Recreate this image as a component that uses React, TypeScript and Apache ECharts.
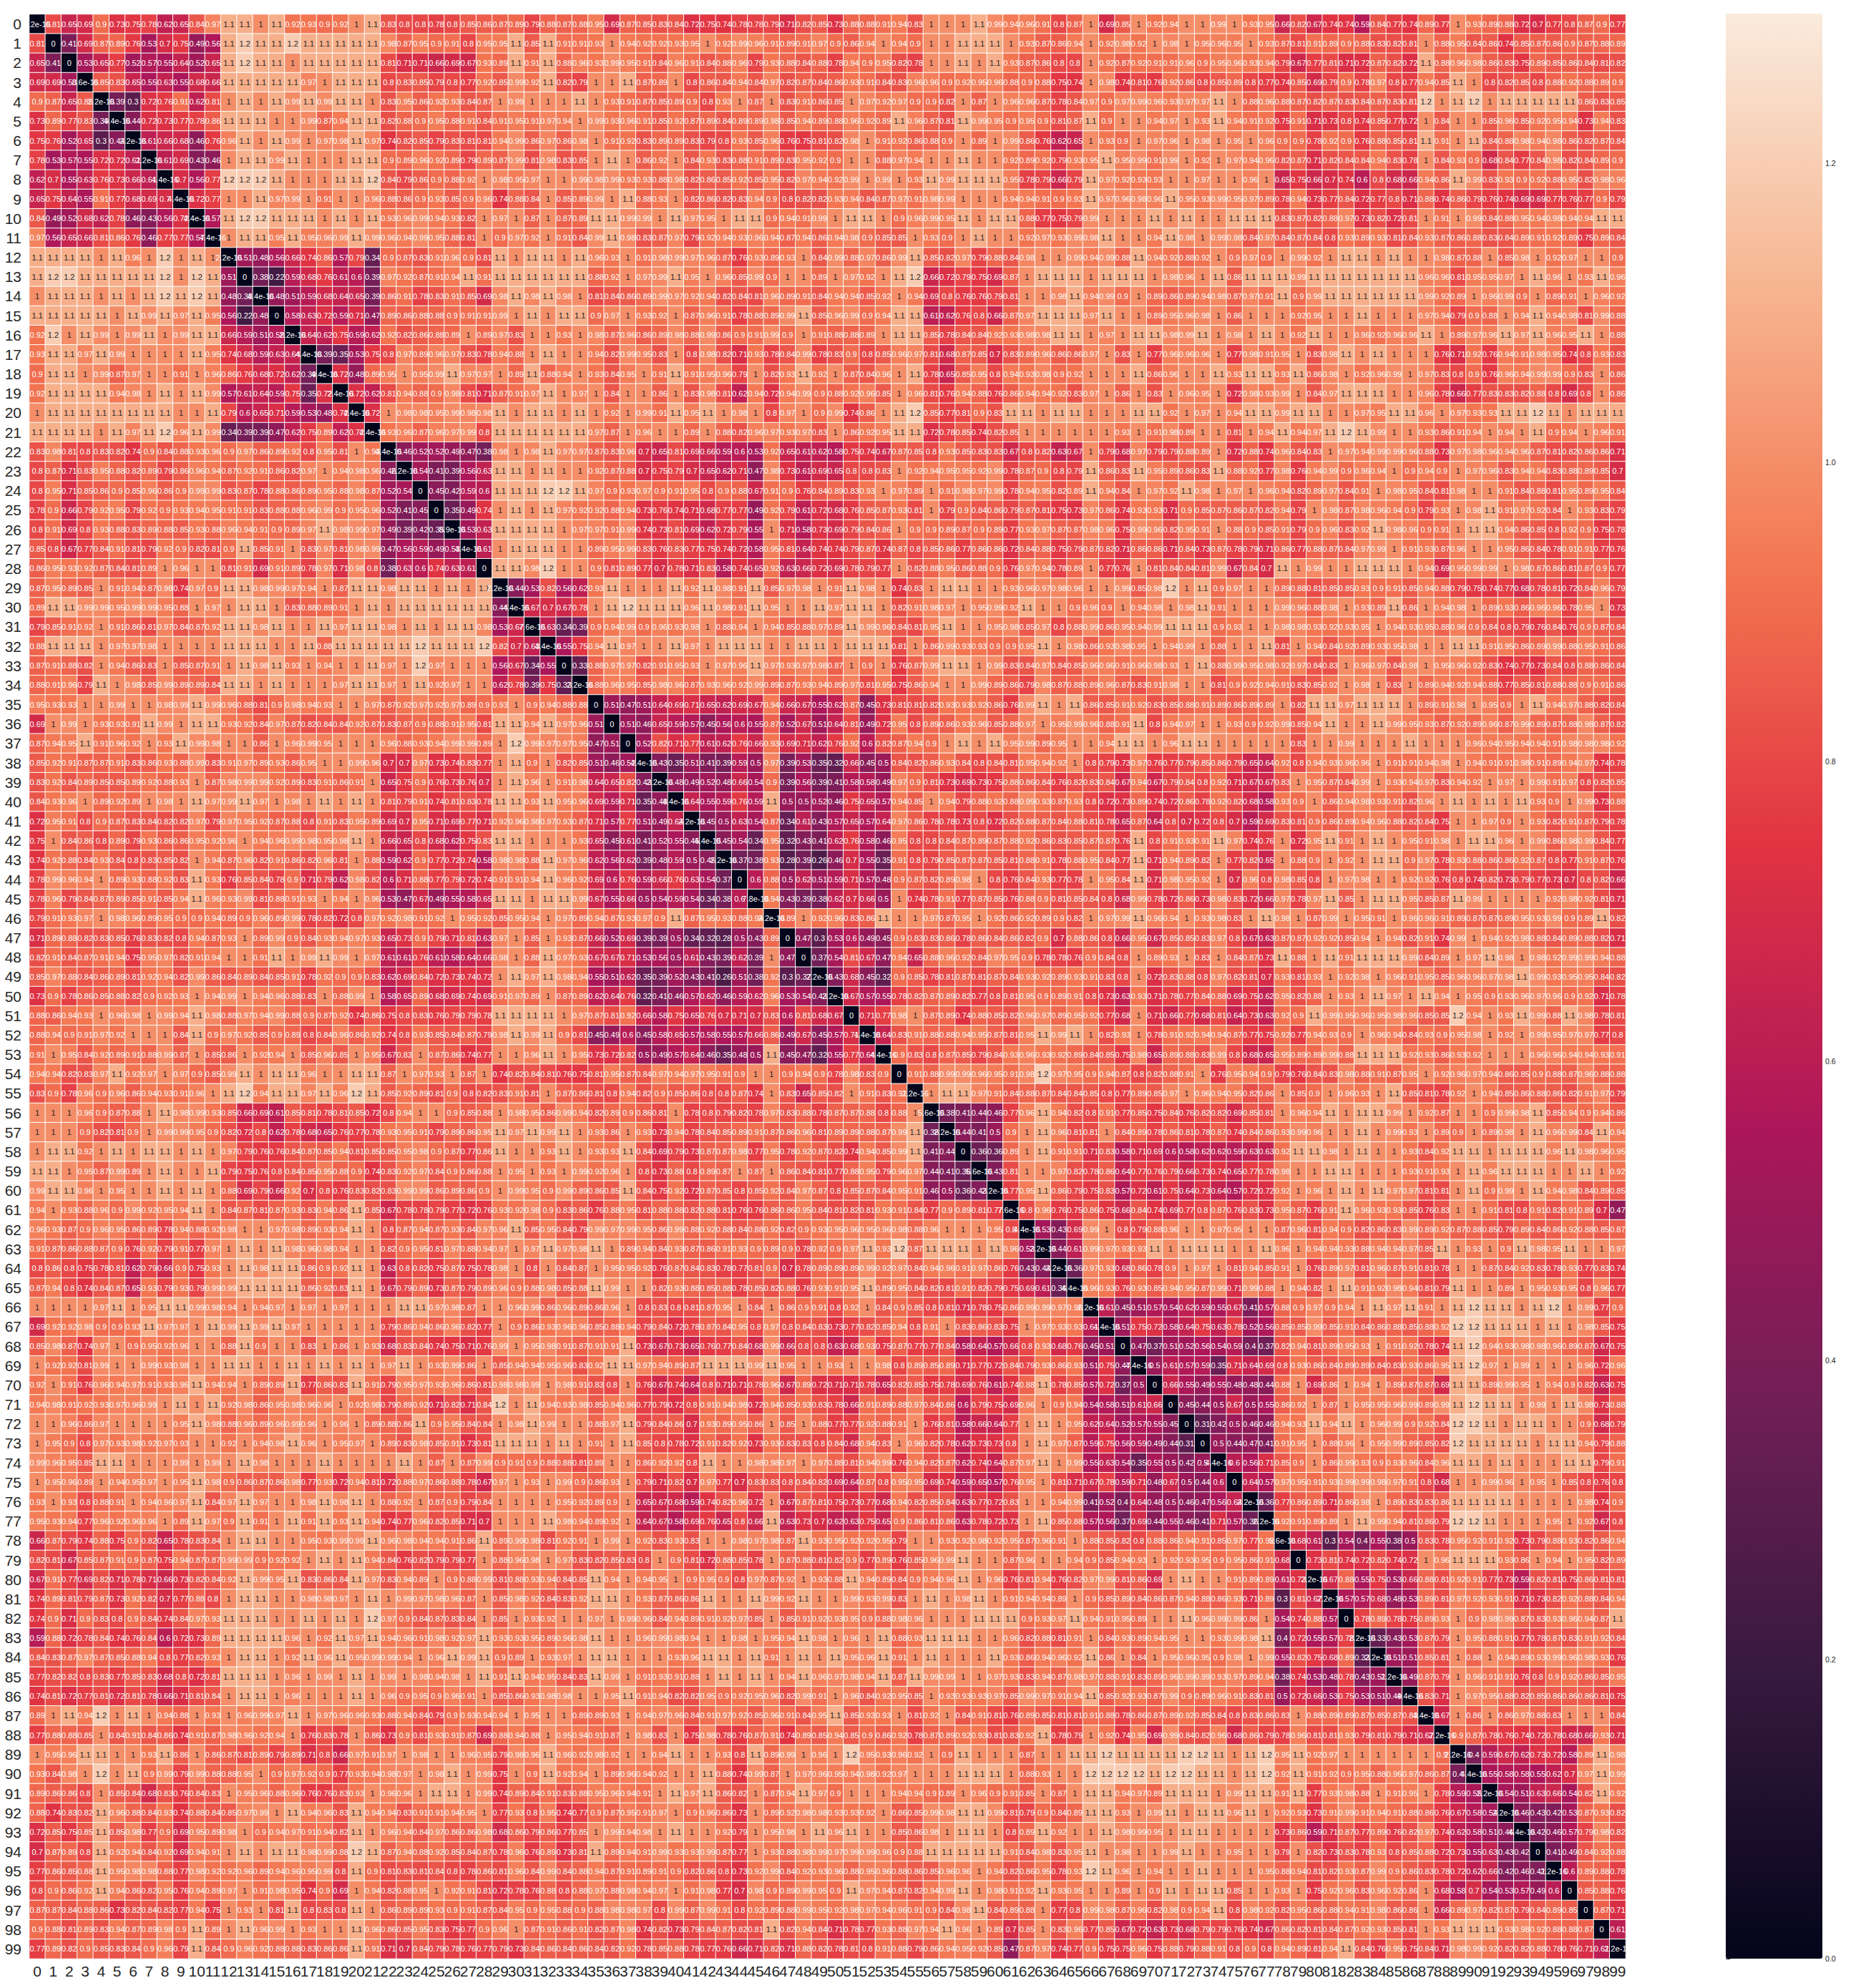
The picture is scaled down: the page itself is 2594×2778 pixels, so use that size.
import React, { useEffect, useRef } from "react";
import * as echarts from "echarts";

// Upper triangle of the matrix, in hundredths. rN holds columns N+1 .. 99 of row N.
const r0 = [81,65,69,90,73,75,78,62,65,84,97,110,110,100,110,92,93,90,92, 100,110,83,80,80,78,80,85,86,87,89,79,88,87,88,95,69,87,85,83,84,72,75,74,78,78,79,71,82,85,73,88,88,91,94,83,100,100,100,110, 99,94,96,91,80,87,100,69,85,100,92,94,100,100,99,100,93,95,66,82,67,74,74,59,84,77,74,89,77,100,93,89,88,72,70,77,80,87,90,77];
const r1 = [41,69,87,89,76,53,70,75,49,56,110,120,110,110,120,110,110,110, 110,110,98,87,95,90,91,80,95,95,110,85,110,91,91,93,100,94,92,92,93,95,100,92,99,96,91,89,91,97,90,86,94,100,94,90,100,100,110,110, 110,100,93,87,86,94,100,92,98,92,100,98,100,95,96,95,100,93,87,81,91,89,90,88,83,82,81,100,88,95,84,86,74,85,87,86,90,87,88,89];
const r2 = [53,65,77,52,57,55,64,52,65,110,120,110,110,100,110,110,110, 110,110,81,71,71,66,69,67,93,89,110,91,110,88,96,93,99,95,91,84,96,91,84,88,96,79,93,88,84,88,78,94,90,95,82,78,100,100,110,100, 110,93,87,86,80,80,100,92,87,92,91,91,96,90,95,96,93,94,79,67,77,81,71,72,87,82,72,110,88,96,98,86,83,75,89,85,86,84,81,82];
const r3 = [85,83,65,55,63,55,68,66,110,110,110,110,110,97,100,110, 110,110,80,83,85,79,80,77,92,85,99,92,110,82,79,100,100,110,87,89,100,80,86,84,94,84,97,82,87,84,86,93,91,84,83,96,96,90,92,95, 96,88,90,88,75,74,100,98,74,81,76,92,86,80,85,89,80,77,74,85,69,79,90,78,97,80,77,94,85,110,100,80,82,85,80,88,92,88,89,90];
const r4 = [39,30,72,76,91,62,81,100,110,100,110,99,110,99,110, 110,100,83,95,86,92,93,84,87,100,99,100,100,100,110,100,93,91,87,85,89,90,80,93,100,87,100,83,91,86,85,100,97,92,97,90,90,82,100,87, 100,96,96,87,78,84,97,90,97,99,96,93,97,97,110,100,88,96,88,87,82,87,83,84,87,83,81,120,100,110,120,100,110,110,110,110,110,86,83,85];
const r5 = [44,72,73,77,78,86,110,110,110,100,100,99,87,94, 110,110,82,88,90,95,88,91,84,91,95,91,97,94,100,99,93,96,91,85,92,87,89,84,89,89,98,85,94,89,88,96,92,89,110,96,87,81,110,99, 95,90,95,90,81,87,110,90,100,100,94,97,100,93,110,94,91,92,75,91,71,73,80,74,85,77,72,100,84,100,100,85,96,85,92,95,94,73,94,83];
const r6 = [61,66,68,46,76,96,110,100,110,99,100,97,98, 110,97,74,82,85,79,83,81,81,94,99,86,97,86,98,100,91,92,83,89,89,83,79,80,93,85,96,76,75,81,82,98,100,91,92,86,88,90,100,89, 100,99,86,76,62,65,100,93,90,100,97,96,100,98,100,95,100,96,90,90,78,92,90,76,88,85,81,110,91,100,110,84,88,98,94,98,86,82,87,84];
const r7 = [61,69,43,46,100,110,110,99,110,100,100,100, 110,110,90,89,96,92,89,79,89,87,99,81,98,83,85,100,110,100,86,92,100,84,93,83,88,91,89,83,95,92,90,100,100,88,97,94,100,100,110,100, 100,92,89,92,79,93,95,110,95,99,91,99,100,92,100,97,94,96,82,87,71,82,84,84,94,83,78,100,84,93,90,68,84,77,84,98,82,84,89,90];
const r8 = [70,56,77,120,120,120,110,100,100,100,110, 110,120,84,79,86,90,88,92,100,98,95,97,100,100,99,98,99,93,93,88,98,82,86,85,92,85,95,82,97,94,92,99,100,99,100,93,110,99,110,110, 110,95,78,79,66,79,110,97,92,93,93,100,100,97,100,100,96,100,65,75,66,70,74,60,80,68,66,94,86,110,99,83,93,90,92,88,95,82,98,96];
const r9 = [72,77,100,100,110,97,99,100,91,100, 100,96,88,86,90,93,85,90,96,74,88,84,100,85,89,99,100,110,88,93,100,82,86,82,83,94,90,80,82,82,93,94,84,87,97,91,98,99,100,100, 100,94,94,91,90,93,110,97,96,98,96,110,95,93,99,95,97,89,78,94,73,77,84,72,77,80,71,88,74,86,79,76,74,69,69,77,76,77,90,79];
const r10 = [57,110,120,120,110,110,110,100,110, 100,110,93,96,99,94,93,82,100,97,100,87,100,87,89,110,110,99,99,100,110,97,95,100,110,110,90,94,91,99,100,110,110,100,90,96,99,95,110,100, 110,110,88,77,75,79,99,100,100,100,110,100,110,100,100,110,110,110,83,87,82,88,97,73,82,72,81,100,91,100,99,84,88,95,94,98,94,94,110,110];
const r11 = [100,110,110,95,110,95,96,99, 110,99,96,94,99,95,88,81,100,90,97,92,100,91,84,99,110,98,83,87,97,79,92,94,93,96,94,87,94,86,94,98,90,85,85,100,93,90,100,110, 100,100,92,97,93,99,98,110,100,100,94,110,98,100,99,98,84,97,84,87,84,80,93,89,93,81,84,93,87,86,88,83,84,89,91,92,89,75,89,84];
const r12 = [51,48,56,66,74,86,57, 79,34,90,87,83,91,96,90,81,110,100,110,110,100,110,96,93,100,91,98,99,97,96,87,76,93,89,93,100,84,99,88,97,86,99,110,85,82,97,79, 88,84,98,100,100,99,94,99,88,110,94,92,88,92,100,90,97,90,100,99,92,100,110,110,100,110,100,100,98,87,88,100,85,98,100,92,97,100,100,90];
const r13 = [38,22,59,68,76,61, 60,39,97,92,87,91,94,110,91,110,110,110,110,110,110,88,92,100,97,99,110,95,100,96,85,99,90,100,100,89,100,97,92,100,110,120,66,72,79,75, 69,87,100,110,110,110,100,110,110,110,100,98,96,100,110,86,110,110,110,99,110,110,110,110,110,110,110,96,96,81,95,95,97,100,110,96,100,93,110,96];
const r14 = [48,51,59,68,64, 65,39,86,91,78,83,91,85,69,98,110,98,110,98,100,81,84,86,89,99,97,92,94,82,84,81,96,89,91,84,94,94,85,92,100,94,69,80,76,76, 79,81,100,100,98,110,94,99,90,100,89,86,89,94,98,87,97,91,110,90,99,110,110,110,110,110,110,99,92,89,100,96,99,90,100,89,91,100,96,92];
const r15 = [58,63,72,59, 71,47,89,86,88,88,90,91,91,99,100,110,100,110,110,90,97,100,93,92,100,87,96,91,78,88,89,99,110,85,96,99,90,94,110,110,61,62,76,80, 66,87,97,110,110,110,97,110,100,100,89,95,96,98,100,86,100,100,100,92,95,100,100,110,100,100,100,97,94,79,90,88,100,94,110,94,98,81,99,88];
const r16 = [64,62,75, 59,62,92,82,86,88,89,100,89,97,83,100,100,93,100,98,87,96,86,89,98,88,99,86,90,91,99,90,100,91,88,88,89,100,110,110,85,78,84,84, 92,93,98,98,110,110,100,97,100,110,110,98,99,110,100,98,100,110,100,92,110,100,100,96,92,96,96,110,100,89,97,96,110,97,110,96,95,110,100,88];
const r17 = [39,35, 53,75,80,97,89,96,97,83,78,94,88,100,110,100,100,94,82,99,95,83,100,80,98,82,71,93,78,84,99,78,83,90,80,85,96,97,81,68,87,85, 70,83,89,96,86,86,97,100,83,100,77,96,96,96,100,77,98,91,95,100,83,98,110,100,110,100,100,100,76,71,92,76,94,91,98,95,74,80,93,83];
const r18 = [72, 48,89,95,100,95,99,110,97,97,100,89,110,88,94,100,93,84,95,100,91,110,91,95,96,79,100,82,93,110,92,100,87,84,96,100,110,78,65,85,95, 80,94,93,98,90,92,100,100,100,110,86,96,100,100,110,93,110,110,93,110,86,98,100,92,96,99,100,97,83,80,90,76,96,94,99,99,90,83,100,86];
const r19 = [72,62,81,94,88,90,98,81,71,87,91,97,110,100,97,100,84,100,100,86,100,83,98,81,62,94,72,94,99,90,88,92,96,85,100,96,81,76,94,88, 76,86,94,94,92,83,97,100,86,100,83,100,96,95,100,72,98,93,99,100,84,97,110,110,110,100,100,96,78,66,77,83,83,82,88,80,69,80,100,86];
const r20 = [72,100,98,98,95,99,98,98,110,100,110,110,100,110,100,92,100,99,91,110,95,110,100,98,100,80,97,100,90,99,74,86,100,110,120,85,77,81,90, 83,110,110,100,110,110,100,100,100,110,110,92,100,97,100,94,110,110,99,110,110,100,100,97,95,110,110,96,100,97,93,93,110,110,120,110,100,110,110,110];
const r21 = [93,96,87,96,97,99,80,110,110,110,110,110,110,97,87,100,96,100,100,89,100,88,82,96,97,93,97,83,100,86,92,95,110,110,72,78,85,74, 82,85,100,100,100,100,100,100,93,100,91,98,89,100,100,81,100,94,110,94,97,110,120,110,99,100,100,93,86,91,94,100,94,100,110,90,94,100,96,91];
const r22 = [46,52,52,49,47,38,98,100,98,110,97,97,87,83,96,70,65,81,69,66,59,60,53,92,65,61,62,58,75,74,67,87,85,80,93,85,83, 83,67,80,82,63,67,100,79,68,97,79,79,88,89,100,72,88,74,96,84,83,100,97,94,99,99,96,88,73,97,98,96,94,96,87,81,82,86,86,71];
const r23 = [54,41,39,56,63,110,110,100,110,100,100,92,87,88,70,75,79,70,65,62,71,47,98,73,61,69,65,80,80,83,100,92,94,95,95,92, 99,78,87,90,80,79,110,86,83,110,95,89,86,83,110,88,92,77,98,76,94,99,90,96,94,100,90,94,90,100,97,96,83,94,94,83,88,89,85,70];
const r24 = [45,42,59,60,110,110,110,120,120,110,97,90,93,97,90,91,95,80,90,88,67,91,90,76,84,89,83,93,100,97,89,100,91,98,97, 99,78,94,95,82,89,110,94,84,100,97,92,110,98,100,97,100,96,94,82,89,97,84,91,100,98,95,84,81,98,100,100,91,84,88,81,95,89,95,84];
const r25 = [35,49,74,100,110,100,110,97,92,92,88,94,73,76,74,71,68,77,77,49,92,79,61,72,68,76,85,87,93,81,100,79,90,84, 86,79,87,81,75,73,97,86,74,93,93,71,90,85,87,86,87,82,94,79,100,98,87,98,96,94,90,79,93,100,98,110,91,97,92,84,100,93,83,79];
const r26 = [53,63,110,110,110,110,100,97,97,91,99,74,73,81,69,62,72,79,55,100,71,58,73,69,79,84,86,100,90,90,89,87,90, 89,77,93,97,87,87,98,96,75,99,96,82,95,91,100,88,90,85,91,79,90,96,83,92,110,98,96,90,91,100,110,110,94,86,85,80,92,90,75,78];
const r27 = [61,100,110,110,110,100,100,89,95,99,83,76,83,77,75,74,72,58,95,81,64,74,74,79,87,74,87,80,85,86,77,86, 86,72,84,88,75,79,87,82,71,86,86,71,84,73,87,78,79,71,86,77,88,87,84,97,99,100,91,93,87,96,100,100,95,86,84,78,91,91,77,76];
const r28 = [110,110,98,120,100,100,90,81,89,77,70,78,71,83,58,74,65,92,63,66,72,69,78,79,77,100,82,88,95,86,88, 90,76,97,94,78,89,100,77,76,100,81,84,84,81,99,67,84,70,110,100,99,100,100,110,110,110,100,94,69,95,99,99,100,98,87,86,81,87,90,77];
const r29 = [44,53,82,56,62,93,110,100,100,100,110,92,110,98,91,110,85,97,98,100,91,110,98,100,74,83,100,110,110,100, 100,93,96,97,98,96,100,100,99,85,98,120,100,110,90,97,100,100,89,88,81,85,85,93,90,91,85,94,88,79,75,74,77,68,78,81,72,84,96,79];
const r30 = [67,70,67,78,100,110,120,110,110,110,96,110,98,91,110,95,100,100,110,97,110,110,100,82,91,98,97,100,95, 99,92,110,100,100,90,96,90,100,94,98,100,98,110,91,100,100,100,99,96,88,98,100,93,89,110,86,100,94,98,100,89,93,86,96,96,78,95,100,73];
const r31 = [63,34,39,90,94,99,90,96,93,98,100,88,94,100,94,85,88,97,89,110,99,96,84,81,95,110,100,100, 95,98,85,97,80,88,99,86,95,94,99,110,110,110,90,93,100,100,98,98,93,92,93,95,100,94,93,95,88,96,90,84,80,79,76,84,76,90,87,84];
const r32 = [55,75,94,110,97,100,100,110,97,100,110,110,110,100,100,110,110,100,110,110,110,81,100,86,99,93,93, 90,90,95,110,100,98,86,93,98,95,100,94,99,100,88,100,100,110,81,100,94,84,92,89,93,95,98,100,100,110,110,91,95,86,89,99,88,95,91,86];
const r33 = [33,88,97,97,82,91,95,93,100,97,96,110,97,93,97,98,87,100,90,100,76,87,99,110,110,100, 99,83,84,97,84,85,96,96,91,96,98,93,100,110,88,99,95,98,92,97,84,83,100,96,97,84,98,100,95,96,92,83,74,77,73,84,80,88,86,84];
const r34 = [88,96,95,85,98,96,87,93,96,92,99,89,87,93,94,89,97,81,95,75,86,94,100,100,99, 89,86,79,98,87,88,89,96,87,83,91,98,100,100,81,90,92,94,91,83,85,92,100,98,100,83,100,89,94,92,94,88,77,85,81,88,88,90,91,86];
const r35 = [51,47,51,64,69,71,65,62,69,67,94,66,67,55,62,87,45,73,81,81,82,93,93,92, 86,76,99,110,100,110,86,85,91,92,83,85,88,91,89,86,89,89,100,82,110,110,97,110,110,110,100,89,91,98,100,95,90,100,110,94,97,88,82,84];
const r36 = [51,46,65,59,57,45,56,60,55,87,52,67,51,64,81,49,72,95,80,89,86,93,96, 85,88,97,100,95,99,96,88,91,110,80,94,97,100,100,93,90,92,99,85,94,110,100,100,110,99,95,93,87,92,89,96,87,99,89,87,88,98,87,82];
const r37 = [52,82,71,77,61,62,76,66,93,69,71,62,76,92,60,82,87,94,90,100,110,100, 110,95,99,89,95,100,100,94,110,110,100,96,110,110,100,100,100,100,100,83,100,100,99,100,100,100,110,100,100,100,96,94,95,94,94,91,98,98,98,92];
const r38 = [43,35,51,41,39,59,50,97,39,53,35,32,66,45,50,84,82,86,93,84,80, 84,81,95,94,92,100,80,79,73,97,76,77,79,85,86,79,65,64,92,80,94,93,96,96,100,91,91,94,98,100,94,91,91,98,91,89,94,97,74,78];
const r39 = [48,49,52,48,66,54,90,39,56,39,41,58,58,49,97,90,81,73,69,73, 75,88,86,84,76,82,83,84,67,94,67,79,84,80,92,71,67,67,83,100,95,87,84,99,100,93,94,97,83,94,92,100,97,100,99,91,97,80,82,85];
const r40 = [64,55,59,76,59,110,50,50,52,46,75,65,57,94,85,100,94,79,88, 92,88,99,93,87,93,80,72,73,89,74,72,86,78,92,82,68,58,93,90,100,86,94,98,93,91,82,96,100,110,100,110,100,110,93,90,100,99,73,88];
const r41 = [45,50,63,54,87,34,61,43,57,65,57,64,97,86,78,78,73,80, 72,82,88,87,84,88,81,78,65,87,64,80,70,72,80,70,59,69,83,81,90,86,89,94,96,88,82,84,75,100,100,97,90,100,93,82,91,87,79,78];
const r42 = [45,54,34,95,32,43,41,62,76,58,46,95,80,80,84,87,89, 87,88,92,86,83,85,87,87,76,110,80,91,93,91,110,97,74,76,100,72,95,110,91,100,110,100,95,91,98,100,110,110,96,100,99,86,98,99,84,77];
const r43 = [37,38,93,28,39,26,46,70,55,35,91,80,79,85,87,87, 85,81,88,91,78,88,95,84,77,110,71,94,89,82,100,77,82,65,100,88,90,100,92,100,110,110,90,97,78,93,88,86,86,92,87,80,77,91,87,76];
const r44 = [60,88,50,62,51,59,71,57,48,90,87,82,89,98,100, 80,76,84,93,77,78,100,95,84,110,71,98,95,92,100,70,96,80,98,85,80,100,97,98,100,100,92,92,76,80,74,82,73,79,77,73,70,80,82,66];
const r45 = [94,43,39,38,62,70,66,50,100,74,78,91,77,87, 85,76,88,90,81,85,84,80,68,99,78,72,86,73,98,83,72,66,97,78,97,110,85,100,110,110,95,85,87,110,99,100,100,100,100,92,98,92,81,71];
const r46 = [89,100,92,96,83,86,110,100,100,97,87,95,100, 92,86,92,89,90,82,100,97,99,110,96,94,100,93,98,83,100,110,98,100,87,99,100,95,91,100,96,96,91,89,87,87,89,95,93,99,90,89,110,82];
const r47 = [47,30,53,60,49,45,90,83,83,86,78,86, 84,86,82,90,70,88,86,80,66,95,67,85,85,83,97,80,67,63,87,87,92,92,85,94,100,94,82,91,74,99,100,94,92,98,88,84,89,88,82,71];
const r48 = [37,54,81,67,47,94,65,88,96,92,84, 97,95,90,78,78,76,90,84,80,100,89,93,100,83,100,84,87,73,110,88,100,110,91,110,110,110,99,84,89,100,97,110,98,100,98,92,99,99,94,88];
const r49 = [43,68,45,32,90,85,78,81,87,81, 87,84,93,92,89,93,91,83,80,100,72,83,88,80,97,82,81,70,93,81,93,100,92,98,100,96,91,95,85,96,96,97,98,110,99,93,95,95,84,82];
const r50 = [67,57,55,78,82,87,89,82,77, 80,81,95,90,89,91,80,73,63,93,71,78,77,84,88,69,75,62,95,82,88,100,93,100,110,97,100,110,94,100,95,90,93,96,97,96,90,92,71,78];
const r51 = [71,77,98,100,87,89,74,88, 85,82,96,97,89,95,92,77,68,100,71,66,77,68,81,64,73,63,92,90,110,99,95,96,95,98,96,85,85,120,94,100,93,110,99,88,110,98,78,81];
const r52 = [64,83,91,88,88,94,95, 87,81,95,110,99,110,100,82,93,100,78,91,92,94,94,87,77,75,92,77,94,93,90,100,96,94,84,93,90,95,98,100,92,100,99,95,97,97,77,80];
const r53 = [90,83,80,87,85,79, 84,93,96,93,92,89,84,85,75,98,65,89,88,83,99,80,68,65,95,89,89,99,88,110,110,110,92,93,86,93,92,100,100,100,96,96,94,94,93,91];
const r54 = [91,88,99,99,96, 95,91,98,120,97,95,90,94,87,80,82,88,91,100,76,95,94,90,79,76,84,83,98,88,91,87,95,100,92,96,97,94,86,85,90,88,87,96,88,88];
const r55 = [100,110,110,97, 91,84,88,87,84,84,85,80,77,89,85,97,100,96,94,95,82,86,100,85,90,100,96,93,100,110,85,81,78,92,100,94,85,86,88,86,82,91,97,79];
const r56 = [38,41,44, 46,77,96,110,94,82,80,91,77,85,75,84,76,82,82,69,85,81,100,96,94,110,100,110,110,99,100,92,87,100,100,90,99,98,110,85,94,90,94,86];
const r57 = [44,41, 50,90,100,110,96,81,81,100,84,89,78,86,81,78,87,74,84,86,93,99,96,100,100,110,100,99,93,100,89,90,100,89,98,100,110,96,99,84,110,94];
const r58 = [36, 36,89,100,110,91,91,71,83,58,71,69,60,58,62,62,59,63,63,92,110,110,98,100,110,100,100,93,84,92,110,110,100,110,110,110,96,110,98,96,95];
const r59 = [43,81,100,100,97,82,78,86,64,77,76,79,66,73,74,65,77,78,98,100,100,110,110,100,100,100,93,91,93,100,110,96,110,110,110,100,100,110,100,92];
const r60 = [77,95,110,86,79,75,83,57,72,61,75,64,73,64,57,72,72,92,100,96,100,110,100,110,97,97,81,81,100,110,90,99,100,110,94,98,84,89,85];
const r61 = [80,96,76,75,86,75,66,84,74,69,77,80,87,76,83,73,95,87,76,91,110,96,93,93,85,76,83,100,100,91,81,80,91,82,91,89,70,47];
const r62 = [53,43,69,99,100,80,79,88,96,100,100,97,95,100,100,87,96,81,94,90,82,86,83,99,89,92,87,88,85,79,89,84,86,92,88,85,87];
const r63 = [44,61,99,97,93,93,110,100,110,110,110,100,100,110,96,100,94,94,93,88,94,94,97,85,110,100,93,100,90,110,98,95,110,100,100,97];
const r64 = [36,97,93,68,86,78,90,100,97,100,81,94,85,91,100,76,89,97,81,96,87,91,81,78,100,100,87,84,92,83,78,93,77,83,74];
const r65 = [96,93,76,93,85,94,95,87,99,71,99,88,100,94,82,100,110,91,92,98,94,81,79,110,100,100,89,100,95,93,95,80,96,77];
const r66 = [61,45,51,57,54,62,59,55,67,41,57,88,90,97,90,94,100,110,97,110,91,100,110,120,110,110,100,110,120,100,99,77,90];
const r67 = [51,75,72,58,64,75,63,78,52,56,85,85,99,85,91,84,86,88,85,88,92,120,120,110,110,110,100,110,100,98,85,75];
const r68 = [47,37,51,52,56,54,59,40,37,82,94,81,89,95,93,100,91,92,78,74,110,120,94,93,98,98,96,89,87,67,75];
const r69 = [50,61,57,59,35,71,64,69,80,93,86,84,89,89,84,83,93,86,95,110,120,97,100,99,100,100,100,96,72,96];
const r70 = [66,55,49,55,48,48,44,88,100,69,86,100,94,100,89,87,87,69,110,110,89,99,95,100,94,90,82,63,75];
const r71 = [45,44,50,67,50,55,86,92,100,87,100,95,95,96,99,89,99,110,120,110,110,100,99,100,110,98,73,88];
const r72 = [31,42,50,46,46,94,93,110,94,110,100,96,99,90,92,84,120,120,110,100,110,110,100,100,90,68,79];
const r73 = [50,44,47,41,91,95,100,88,96,100,95,99,89,85,82,120,110,110,110,110,100,110,110,94,79,88];
const r74 = [60,56,71,85,90,100,86,99,93,90,93,96,84,96,110,110,100,110,100,100,100,110,110,79,91];
const r75 = [64,57,97,95,91,93,99,99,98,97,91,80,68,100,100,99,96,100,95,100,85,80,76,80];
const r76 = [36,77,86,89,71,86,98,100,89,83,83,86,110,110,110,110,100,100,100,100,98,74,90];
const r77 = [92,91,89,89,100,110,99,94,81,86,79,120,120,110,100,100,100,95,100,92,67,80];
const r78 = [68,61,30,54,40,55,38,50,83,78,95,92,91,92,73,79,88,93,82,86,94];
const r79 = [73,81,74,72,82,74,72,100,96,110,110,110,93,86,100,94,100,95,82,89];
const r80 = [67,88,55,75,53,66,88,81,92,91,77,73,59,82,81,75,86,81,81];
const r81 = [57,57,68,48,53,89,81,97,92,93,91,71,73,82,92,88,84,94];
const r82 = [78,89,78,75,89,93,100,90,98,99,87,83,93,96,94,87,110];
const r83 = [33,43,53,87,79,100,95,88,91,77,78,87,83,91,92,84];
const r84 = [51,51,85,81,100,88,100,94,89,93,99,96,98,93,76];
const r85 = [49,87,79,100,96,91,91,76,80,90,92,86,85,95];
const r86 = [83,71,100,97,95,88,82,85,86,86,86,81,75];
const r87 = [67,100,86,100,86,97,88,83,100,100,100,84];
const r88 = [90,87,78,76,74,72,78,68,66,93,71];
const r89 = [40,59,67,62,73,72,58,89,110,98];
const r90 = [55,58,58,55,62,70,97,110,99];
const r91 = [54,51,63,66,54,82,110,92];
const r92 = [46,43,42,53,87,93,82];
const r93 = [42,46,57,79,98,82];
const r94 = [41,49,84,92,88];
const r95 = [60,89,88,78];
const r96 = [85,88,76];
const r97 = [87,71];
const r98 = [61];

const upperRows = [r0,r1,r2,r3,r4,r5,r6,r7,r8,r9,r10,r11,r12,r13,r14,r15,r16,r17,r18,r19,r20,r21,r22,r23,r24,r25,r26,r27,r28,r29,r30,r31,r32,r33,r34,r35,r36,r37,r38,r39,r40,r41,r42,r43,r44,r45,r46,r47,r48,r49,r50,r51,r52,r53,r54,r55,r56,r57,r58,r59,r60,r61,r62,r63,r64,r65,r66,r67,r68,r69,r70,r71,r72,r73,r74,r75,r76,r77,r78,r79,r80,r81,r82,r83,r84,r85,r86,r87,r88,r89,r90,r91,r92,r93,r94,r95,r96,r97,r98,[]];

const diagonalLabels = ["1.2e-16","0","0","8.6e-16","2.2e-16","4.4e-16","2.2e-16","2.2e-16","4.4e-16","4.4e-16","4.4e-16","4.4e-16","2.2e-16","0","4.4e-16","0","2.2e-16","4.4e-16","4.4e-16","2.4e-16","4.4e-16","4.4e-16","4.4e-16","2.2e-16","0","0","8.9e-16","4.4e-16","0","2.2e-16","4.4e-16","7.6e-16","4.4e-16","0","2.2e-16","0","0","0","4.4e-16","2.2e-16","4.4e-16","2.2e-16","4.4e-16","2.2e-16","0","7.8e-16","2.2e-16","0","0","2.2e-16","2.2e-16","0","4.4e-16","4.4e-16","0","2.2e-16","5.6e-16","2.2e-16","0","5.6e-16","2.2e-16","7.6e-16","4.4e-16","2.2e-16","2.2e-16","4.4e-16","2.2e-16","4.4e-16","0","4.4e-16","0","0","0","0","4.4e-16","0","2.2e-16","2.2e-16","5.6e-16","0","2.2e-16","2.2e-16","0","2.2e-16","2.2e-16","2.2e-16","4.4e-16","4.4e-16","2.2e-16","2.2e-16","4.4e-16","2.2e-16","2.2e-16","4.4e-16","0","2.2e-16","0","0","0","2.2e-16"];

const rocketStops = ["#03051a","#35193e","#701f57","#ad1759","#e13342","#f37651","#f6b48f","#faebdd"];
const colorbarTicks = [0, 0.2, 0.4, 0.6, 0.8, 1.0, 1.2];
const categories = Array.from({ length: 100 }, (_, i) => String(i));
const FONT = "Liberation Sans";
const INK = "#262626";

function buildCells() {
  const cells: any[] = [];
  for (let r = 0; r < 100; r++) {
    for (let c = 0; c < 100; c++) {
      let hundredths = 0;
      if (c > r) hundredths = upperRows[r][c - r - 1];
      else if (c < r) hundredths = upperRows[c][r - c - 1];
      const v = hundredths / 100;
      cells.push({
        value: [c, r, v],
        text: c === r ? diagonalLabels[r] : String(v),
        label: { color: v >= 1 ? INK : "#ffffff" },
      });
    }
  }
  return cells;
}

export default function App() {
  const ref = useRef<HTMLDivElement>(null);
  useEffect(() => {
    document.body.style.margin = "0";
    const chart = echarts.init(ref.current!, undefined, { renderer: "svg" });
    chart.setOption({
      animation: false,
      backgroundColor: "#ffffff",
      textStyle: { fontFamily: FONT },
      grid: [
        { left: 41, top: 20, width: 2231, height: 2717 },
        { left: 2412, top: 19, width: 135, height: 2718 },
      ],
      xAxis: [
        {
          gridIndex: 0,
          type: "category",
          data: categories,
          position: "bottom",
          axisLine: { show: false },
          axisTick: { show: false },
          splitLine: { show: false },
          axisLabel: { interval: 0, fontSize: 21, color: INK, fontFamily: FONT, margin: 7 },
        },
        { gridIndex: 1, type: "value", show: false },
      ],
      yAxis: [
        {
          gridIndex: 0,
          type: "category",
          data: categories,
          inverse: true,
          axisLine: { show: false },
          axisTick: { show: false },
          splitLine: { show: false },
          axisLabel: { interval: 0, fontSize: 21, color: INK, fontFamily: FONT, margin: 11 },
        },
        {
          gridIndex: 1,
          type: "value",
          position: "right",
          min: 0,
          max: 1.3,
          splitLine: { show: false },
          axisLine: { show: false },
          axisTick: { show: true, length: 6, customValues: colorbarTicks, lineStyle: { color: INK, width: 1 } },
          axisLabel: {
            customValues: colorbarTicks,
            fontSize: 10.6,
            color: INK,
            fontFamily: FONT,
            margin: 4,
            formatter: (v: number) => v.toFixed(1),
          },
        },
      ],
      visualMap: {
        type: "continuous",
        seriesIndex: 0,
        min: 0,
        max: 1.3,
        calculable: false,
        hoverLink: false,
        left: 2412,
        top: 19,
        itemWidth: 135,
        itemHeight: 2718,
        padding: 0,
        text: ["", ""],
        showLabel: false,
        inRange: { color: rocketStops },
      },
      series: [
        {
          type: "heatmap",
          xAxisIndex: 0,
          yAxisIndex: 0,
          progressive: 0,
          silent: true,
          data: buildCells(),
          itemStyle: { borderColor: "#ffffff", borderWidth: 1 },
          label: {
            show: true,
            fontSize: 11,
            fontFamily: FONT,
            formatter: (p: any) => p.data.text,
          },
          emphasis: { disabled: true },
        },
      ],
    });
    return () => chart.dispose();
  }, []);
  return <div ref={ref} style={{ position: "absolute", left: 0, top: 0, width: 2594, height: 2778 }} />;
}
